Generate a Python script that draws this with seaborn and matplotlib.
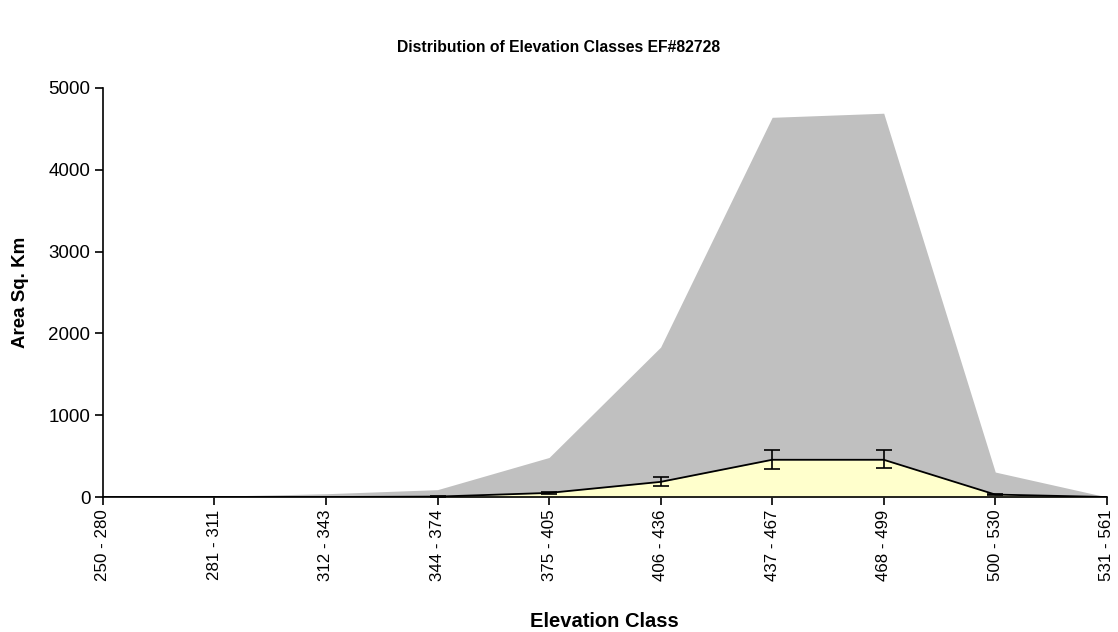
import matplotlib
matplotlib.use("Agg")
import matplotlib.pyplot as plt
import seaborn as sns
import numpy as np
import pandas as pd

categories = ["250 - 280", "281 - 311", "312 - 343", "344 - 374", "375 - 405",
              "406 - 436", "437 - 467", "468 - 499", "500 - 530", "531 - 561"]
total_area = [0, 10, 40, 90, 483, 1832, 4640, 4690, 305, 0]
sample_area = [0, 0, 0, 5, 50, 185, 455, 455, 30, 0]
err_low = [0, 0, 0, 5, 10, 45, 115, 95, 10, 0]
err_high = [0, 0, 0, 5, 10, 55, 125, 125, 10, 0]
yticks = [0, 1000, 2000, 3000, 4000, 5000]

sns.set_style("ticks")
plt.rcParams['font.family'] = ['Liberation Sans', 'DejaVu Sans']
plt.rcParams['text.color'] = 'black'
plt.rcParams['axes.labelcolor'] = 'black'
plt.rcParams['xtick.color'] = 'black'
plt.rcParams['ytick.color'] = 'black'

fig = plt.figure(figsize=(11.18, 6.32), dpi=100)
ax = fig.add_axes([0.092, 0.2136, 0.898, 0.6474])

x = np.arange(len(categories))
df = pd.DataFrame({"x": x, "total": total_area, "sample": sample_area})

ax.fill_between(df["x"], 0, df["total"], color="#c0c0c0", linewidth=0, zorder=1)
ax.fill_between(df["x"], 0, df["sample"], color="#ffffcc", linewidth=0, zorder=2)
sns.lineplot(data=df, x="x", y="sample", color="black", linewidth=1.3, ax=ax, zorder=3)
mask = np.array(sample_area) > 0
ax.errorbar(x[mask], np.array(sample_area)[mask],
            yerr=[np.array(err_low)[mask], np.array(err_high)[mask]],
            fmt="none", ecolor="black", elinewidth=1.2, capsize=6, capthick=1.2, zorder=4)

ax.set_xlim(0, len(categories) - 1)
ax.set_ylim(0, 5000)
ax.set_yticks(yticks)
ax.set_yticklabels([str(v) for v in yticks], fontsize=13.5)
ax.set_xticks(x)
ax.set_xticklabels(categories, rotation=90, fontsize=12.2)
ax.tick_params(axis="both", direction="out", length=6, width=1.2, color="black", pad=3)
for s in ["top", "right"]:
    ax.spines[s].set_visible(False)
for s in ["left", "bottom"]:
    ax.spines[s].set_linewidth(1.2)
    ax.spines[s].set_color("black")

ax.set_xlabel("Elevation Class", fontsize=14.5, fontweight="bold")
ax.xaxis.set_label_coords(0.5, -0.305)
ax.xaxis.label.set_va("center")
ax.set_ylabel("Area Sq. Km", fontsize=13.5, fontweight="bold", labelpad=14)
fig.suptitle("Distribution of Elevation Classes EF#82728", fontsize=11.3,
             fontweight="bold", y=0.937)

fig.savefig("out.png", dpi=100)
